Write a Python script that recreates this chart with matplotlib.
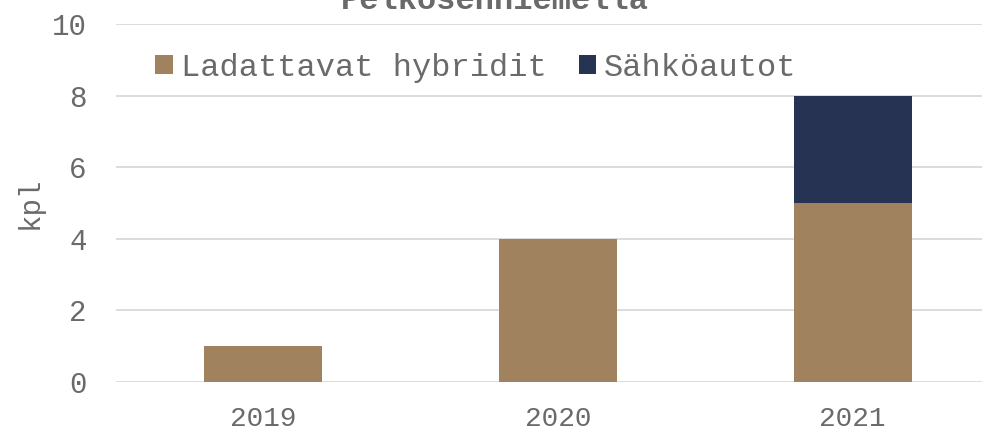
import numpy as np
import matplotlib
matplotlib.use('Agg')
import matplotlib.pyplot as plt

matplotlib.rcParams['font.family'] = ['Liberation Mono', 'DejaVu Sans']

years = ['2019', '2020', '2021']
hybridit = [1, 4, 5]
sahkoautot = [0, 0, 3]
yticks = [0, 2, 4, 6, 8, 10]

tan = '#A0825F'
navy = '#263352'
grey_text = '#6A6A6A'

fig = plt.figure(figsize=(9.82, 4.32), dpi=100)
# plot area runs past the right edge, as in the cropped original
ax = fig.add_axes([116 / 982, 50 / 432, 884 / 982, 358 / 432])

x = np.arange(len(years))
ax.bar(x, hybridit, width=0.4, color=tan, label='Ladattavat hybridit', zorder=2)
ax.bar(x, sahkoautot, width=0.4, bottom=hybridit, color=navy, label='Sähköautot', zorder=2)

ax.set_xlim(-0.5, 2.5)
ax.set_ylim(0, 10)
ax.set_yticks(yticks)
ax.set_xticks(x, labels=years)
ax.grid(axis='y', color='#D9D9D9', linewidth=1.3, zorder=0)
for s in ax.spines.values():
    s.set_visible(False)
ax.tick_params(length=0, colors=grey_text)
ax.tick_params(axis='x', labelsize=20, pad=17)
ax.tick_params(axis='y', labelsize=21, pad=21)

fig.text(30 / 982, 1 - 203 / 432, 'kpl', rotation=90, ha='center', va='center',
         fontsize=21, color=grey_text)

ax.legend(loc='upper left', bbox_to_anchor=(0.03, 0.955), ncol=2, frameon=False,
          fontsize=23, handlelength=0.55, handleheight=0.55, handletextpad=0.25,
          columnspacing=1.0, labelcolor=grey_text, borderaxespad=0)

fig.text(0.504, 1 - 9 / 432, 'Pelkosenniemellä', ha='center', va='baseline',
         fontsize=23, fontweight='bold', color=grey_text)

fig.savefig('out.png', dpi=100)
